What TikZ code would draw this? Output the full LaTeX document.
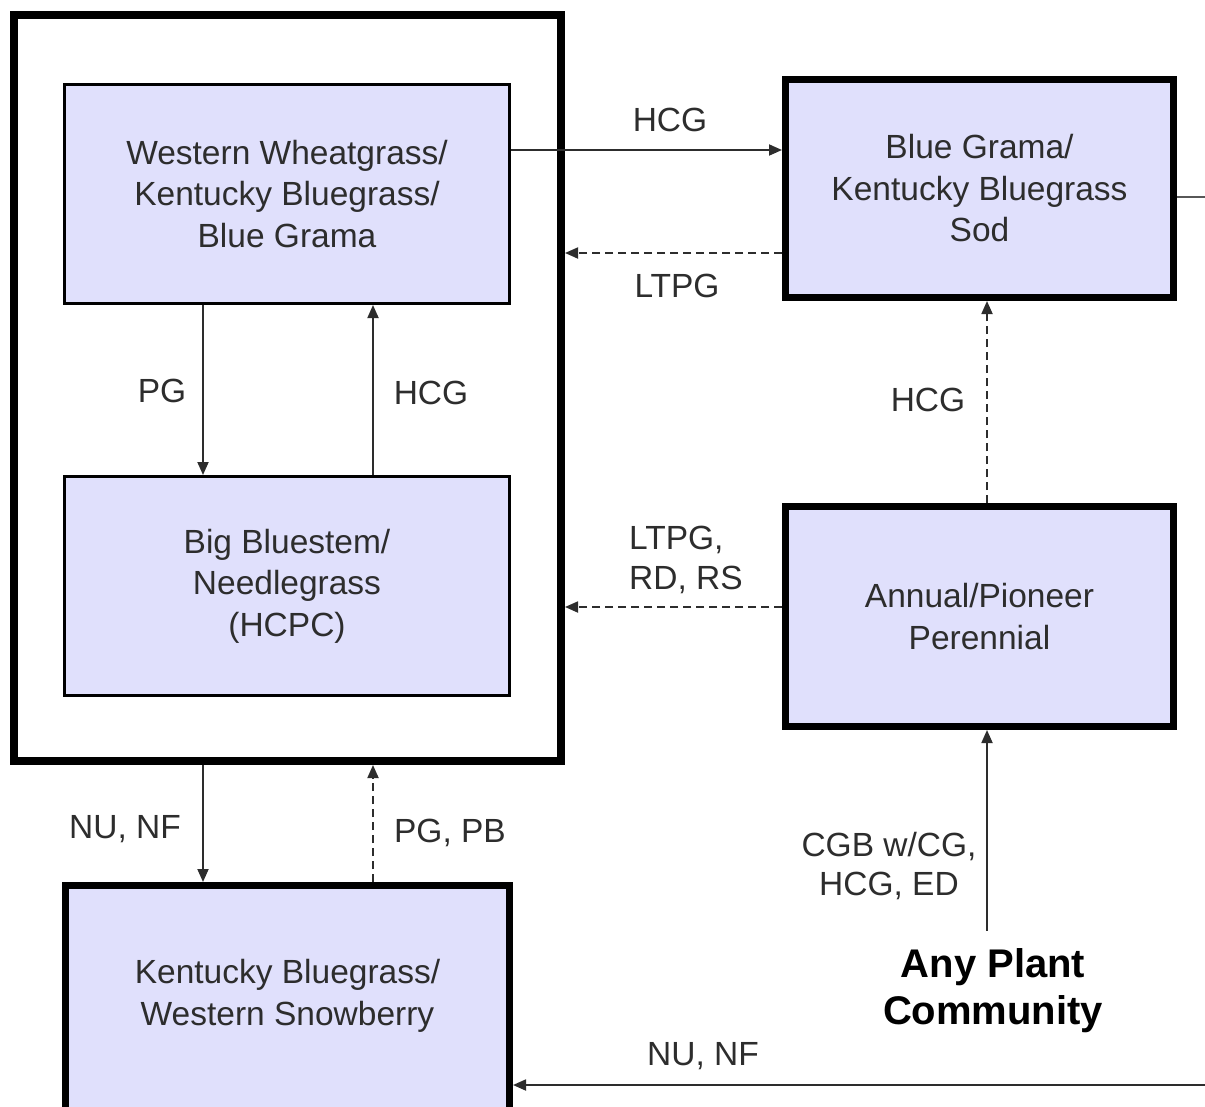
\documentclass[tikz,border=0pt]{standalone}
\usepackage{fontspec}
\setmainfont{Liberation Sans}
\usetikzlibrary{arrows.meta}
\definecolor{boxfill}{RGB}{224,224,252}
\definecolor{ink}{RGB}{45,45,45}
\begin{document}
\begin{tikzpicture}[x=1pt,y=-1pt,
  state/.style={draw=black, fill=boxfill, line width=3pt, minimum width=445pt,
    minimum height=219pt, inner sep=0pt, align=center,
    font=\fontsize{33.5}{41.5}\selectfont, text=ink},
  thickstate/.style={state, line width=7pt},
  outerbox/.style={draw=black, line width=8pt, minimum width=547pt, minimum height=746pt, inner sep=0pt},
  lbl/.style={inner sep=0pt, font=\fontsize{33.5}{39.5}\selectfont, text=ink},
  arr/.style={line width=1.8pt, draw=ink, -{Triangle[length=13pt,width=11pt]}},
  dasharr/.style={arr, dash pattern=on 8pt off 5pt},
  plain/.style={line width=2.2pt, draw=ink!80}]
\useasboundingbox (0,0) rectangle (1205,1106);
\fill[white] (0,0) rectangle (1205,1106);

\node[outerbox] (outer) at (287.5,388) {};
\node[state] (ww) at (287,194) {Western Wheatgrass/\\Kentucky Bluegrass/\\Blue Grama};
\node[state] (bb) at (287,586) {Big Bluestem/\\Needlegrass\\(HCPC)};
\node[thickstate, minimum width=388pt, minimum height=218pt] (sod) at (979.5,188.5) {Blue Grama/\\Kentucky Bluegrass\\Sod};
\node[thickstate, minimum width=388pt, minimum height=220pt] (ann) at (979.5,616.5) {Annual/Pioneer\\Perennial};
\node[thickstate, minimum width=444pt, minimum height=250pt,
  label={[inner sep=0pt, align=center, font=\fontsize{33.5}{41.5}\selectfont, text=ink, yshift=14.5pt]center:Kentucky Bluegrass/\\Western Snowberry}] (kb) at (287.5,1010.5) {};
\node[inner sep=0pt, align=center, font=\fontsize{40}{47}\selectfont\bfseries, text=black] (apc) at (993,991) {Any Plant\\Community};

\coordinate (edgeR) at (1205,197);
\coordinate (edgeB) at (1205,1085);

% connectors
\draw[arr] ([yshift=44pt]ww.east) -- ([yshift=38.5pt]sod.west);
\path ([yshift=-64.5pt]sod.west) coordinate (s1);
\draw[dasharr] (s1) -- (s1 -| outer.east);
\draw[arr] ([xshift=-84pt]ww.south) -- ([xshift=-84pt]bb.north);
\draw[arr] ([xshift=86pt]bb.north) -- ([xshift=86pt]ww.south);
\draw[dasharr] ([xshift=7.5pt]ann.north) -- ([xshift=7.5pt]sod.south);
\path ([yshift=9.5pt]ann.west) coordinate (a1);
\draw[dasharr] (a1) -- (a1 -| outer.east);
\draw[arr] ([xshift=-84.5pt]outer.south) -- ([xshift=-84.5pt]kb.north);
\draw[dasharr] ([xshift=85.5pt]kb.north) -- ([xshift=85.5pt]outer.south);
\draw[arr] ([xshift=-6pt,yshift=18pt]apc.north) -- ([xshift=-6pt]apc.north |- ann.south);
\draw[plain] ([yshift=-8.5pt]sod.east) -- (edgeR);
\draw[arr] (edgeB) -- (edgeB -| kb.east);

% labels
\node[lbl] (l1) at (670,120) {HCG};
\node[lbl] (l2) at (677,286) {LTPG};
\node[lbl] (l3) at (162,391) {PG};
\node[lbl] (l4) at (431,393) {HCG};
\node[lbl] (l5) at (928,400) {HCG};
\node[lbl, align=left, anchor=west] (l6) at (629,560) {LTPG,\\RD, RS};
\node[lbl] (l7) at (125,829) {NU, NF};
\node[lbl] (l8) at (450,833) {PG, PB};
\node[lbl, align=center] (l9) at (889,866) {CGB w/CG,\\HCG, ED};
\node[lbl] (l10) at (703,1056) {NU, NF};
\end{tikzpicture}
\end{document}
